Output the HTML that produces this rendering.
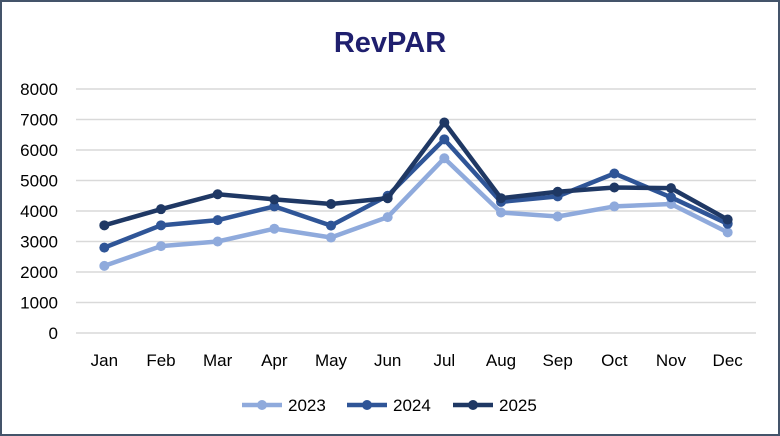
<!DOCTYPE html>
<html><head><meta charset="utf-8">
<style>
html,body{margin:0;padding:0;background:#fff;}
#chart{position:relative;width:780px;height:436px;box-sizing:border-box;border:2px solid #44546A;background:#fff;font-family:"Liberation Sans",sans-serif;overflow:hidden;}
svg{position:absolute;left:-2px;top:-2px;}
</style></head>
<body>
<div id="chart">
<svg id="svg" width="780" height="436">
<text x="390" y="52" text-anchor="middle" font-size="29" font-weight="bold" fill="#1F1F6E">RevPAR</text>
</svg>
</div>
<script>
const categories=["Jan","Feb","Mar","Apr","May","Jun","Jul","Aug","Sep","Oct","Nov","Dec"];
const yTicks=[0,1000,2000,3000,4000,5000,6000,7000,8000];
const seriesNames=["2023","2024","2025"];
const s2023=[2200,2850,3000,3420,3130,3800,5730,3950,3820,4150,4230,3300];
const s2024=[2800,3530,3700,4150,3520,4500,6350,4300,4480,5230,4450,3580];
const s2025=[3530,4060,4550,4380,4230,4420,6900,4420,4630,4770,4750,3720];
const seriesData=[s2023,s2024,s2025];
const colors=["#8FAADC","#2F5597","#1F3864"];
const svg=document.getElementById('svg');
const NS="http://www.w3.org/2000/svg";
const left=76,right=756,y0=333,yTop=89,yMax=8000;
const step=(right-left)/categories.length;
function xs(i){return left+step*(i+0.5);}
function ys(v){return y0-(v/yMax)*(y0-yTop);}
function mk(t,a){const e=document.createElementNS(NS,t);for(const k in a)e.setAttribute(k,a[k]);svg.appendChild(e);return e;}
yTicks.forEach(v=>{
 const l=mk('line',{x1:left,x2:right,y1:ys(v),y2:ys(v),stroke:'#D9D9D9','stroke-width':1.5});
 
 
 const t=mk('text',{x:58,y:ys(v)+6,'text-anchor':'end','font-size':17,fill:'#000'});
 t.textContent=v;
 
 
});
categories.forEach((c,i)=>{
 const t=mk('text',{x:xs(i),y:366,'text-anchor':'middle','font-size':17,fill:'#000'});
 t.textContent=c;
 
 
});
seriesData.forEach((d,si)=>{
 const p=mk('polyline',{points:d.map((v,i)=>xs(i)+','+ys(v)).join(' '),fill:'none',stroke:colors[si],'stroke-width':4.5,'stroke-linejoin':'round'});
 
 
 d.forEach((v,i)=>{
  const c=mk('circle',{cx:xs(i),cy:ys(v),r:5,fill:colors[si]});
  
  
 });
});
const lx=[242,347,453];
seriesNames.forEach((n,si)=>{
 const l=mk('line',{x1:lx[si],x2:lx[si]+40,y1:405,y2:405,stroke:colors[si],'stroke-width':4.5});
 
 
 const c=mk('circle',{cx:lx[si]+20,cy:405,r:5,fill:colors[si]});
 
 
 const t=mk('text',{x:lx[si]+46,y:411,'font-size':17,fill:'#000'});
 t.textContent=n;
 
 
});
</script>
</body></html>
